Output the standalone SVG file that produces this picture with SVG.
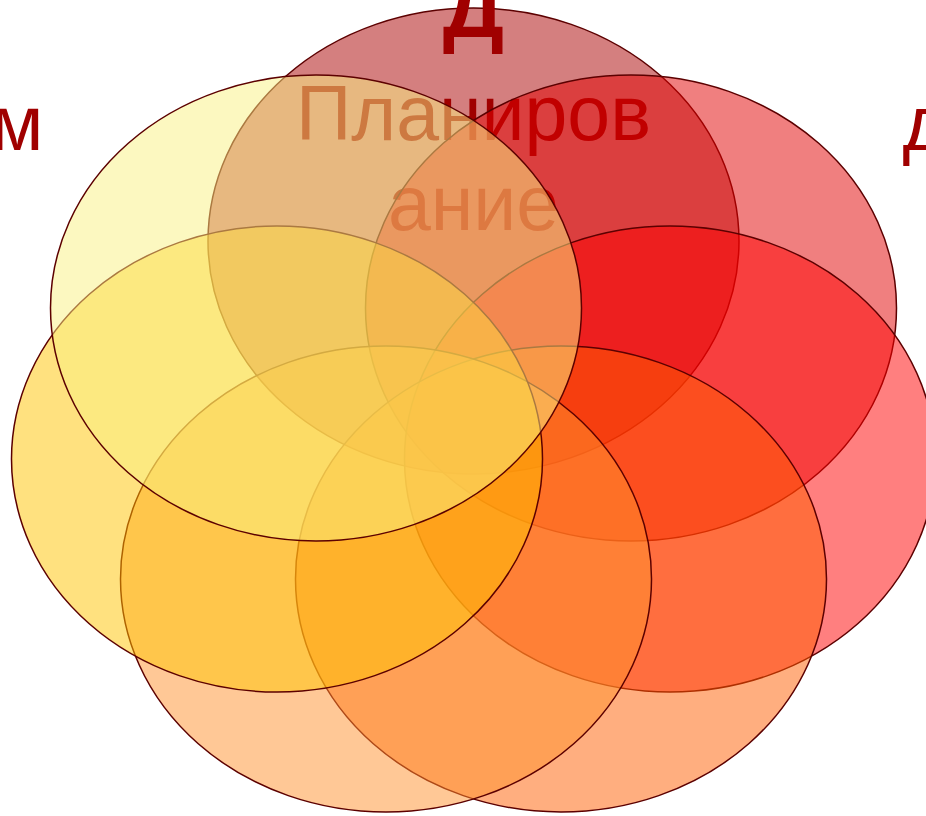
<svg xmlns="http://www.w3.org/2000/svg" width="926" height="816" viewBox="0 0 926 816">
<style>
.e{stroke:#5c0000;stroke-width:1.5;}
.t{font-family:"Liberation Sans",Arial,sans-serif;fill:#a00000;text-anchor:middle;}
</style>
<rect width="926" height="816" fill="#ffffff"/>
<g id="node1">
<ellipse class="e" cx="473.5" cy="241" rx="265.5" ry="233" fill="rgba(169,0,0,0.5)"/>
<text class="t" x="473.5" y="140" font-size="77">Планиров</text>
<text class="t" x="473.5" y="230" font-size="77">ание</text>
</g>
<g id="node2"><ellipse class="e" cx="631" cy="308" rx="265.5" ry="233" fill="rgba(225,0,0,0.5)"/></g>
<g id="node3"><ellipse class="e" cx="670" cy="459" rx="265.5" ry="233" fill="rgba(255,0,0,0.5)"/></g>
<g id="node4"><ellipse class="e" cx="561" cy="579" rx="265.5" ry="233" fill="rgba(255,93,0,0.5)"/></g>
<g id="node5"><ellipse class="e" cx="386" cy="579" rx="265.5" ry="233" fill="rgba(255,145,45,0.5)"/></g>
<g id="node6"><ellipse class="e" cx="277" cy="459" rx="265.5" ry="233" fill="rgba(255,195,0,0.5)"/></g>
<g id="node7"><ellipse class="e" cx="316" cy="308" rx="265.5" ry="233" fill="rgba(249,241,129,0.5)"/></g>
<g id="labels">
<text class="t" x="473.5" y="37" font-size="86" font-weight="bold">Д</text>
<text class="t" x="17" y="150" font-size="77">м</text>
<text class="t" x="925" y="150" font-size="77">д</text>
</g>
</svg>
